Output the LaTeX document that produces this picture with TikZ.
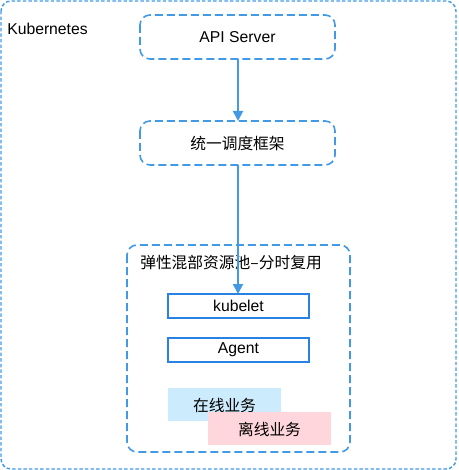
\documentclass[tikz,border=0pt]{standalone}
\usepackage{fontspec}
\setmainfont{Liberation Sans}
\newfontfamily\cjk{Noto Sans CJK SC}
\usetikzlibrary{arrows.meta}
\definecolor{dblue}{RGB}{66,153,230}
\definecolor{sblue}{RGB}{40,130,225}
\definecolor{lblue}{RGB}{204,235,252}
\definecolor{lpink}{RGB}{255,214,220}
\tikzset{
  px/.style={x=0.75pt,y=-0.75pt},
  outerbox/.style={draw=dblue,line width=1.1pt,dash pattern=on 2.6pt off 1.6pt,rounded corners=7.5pt},
  dashbox/.style={draw=dblue,line width=1.2pt,dash pattern=on 6pt off 3pt,rounded corners=7.5pt},
  solidbox/.style={draw=sblue,line width=0.8pt},
  lbl/.style={inner sep=0pt,font=\fontsize{11.8pt}{13pt}\selectfont},
  conn/.style={draw=dblue,line width=1.5pt,-{Triangle[length=7.5pt,width=7.5pt]}}
}
\begin{document}
\begin{tikzpicture}[px]
\useasboundingbox (0,0) rectangle (458,470);
\draw[outerbox] (1,1) rectangle (456,469);
\node[lbl,anchor=west] (k8s) at (7,29) {Kubernetes};
\draw[dashbox] (140,15) rectangle (335,59);
\node[lbl] (api) at (237.5,37) {API Server};
\coordinate (apib) at (238,59);
\draw[dashbox] (140,121) rectangle (335,165);
\node[lbl] (sched) at (237.5,143) {\cjk 统一调度框架};
\coordinate (schedt) at (238,121);
\coordinate (schedb) at (238,165);
\draw[dashbox] (127,245) rectangle (350,452);
\node[lbl,anchor=west] (pool) at (140,263) {\cjk 弹性混部资源池–分时复用};
\draw[solidbox] (168,294) rectangle (309,318);
\node[lbl] (kubelet) at (238.5,306) {kubelet};
\coordinate (kubt) at (238,294);
\draw[solidbox] (168,338) rectangle (309,362);
\node[lbl] (agent) at (238.5,350) {Agent};
\fill[lblue] (168,388) rectangle (281,421);
\node[lbl] (online) at (224.5,405) {\cjk 在线业务};
\fill[lpink] (208,412) rectangle (331,445);
\node[lbl] (offline) at (269.5,429) {\cjk 离线业务};
\draw[conn] (apib) -- (schedt);
\draw[conn] (schedb) -- (kubt);
\end{tikzpicture}
\end{document}
